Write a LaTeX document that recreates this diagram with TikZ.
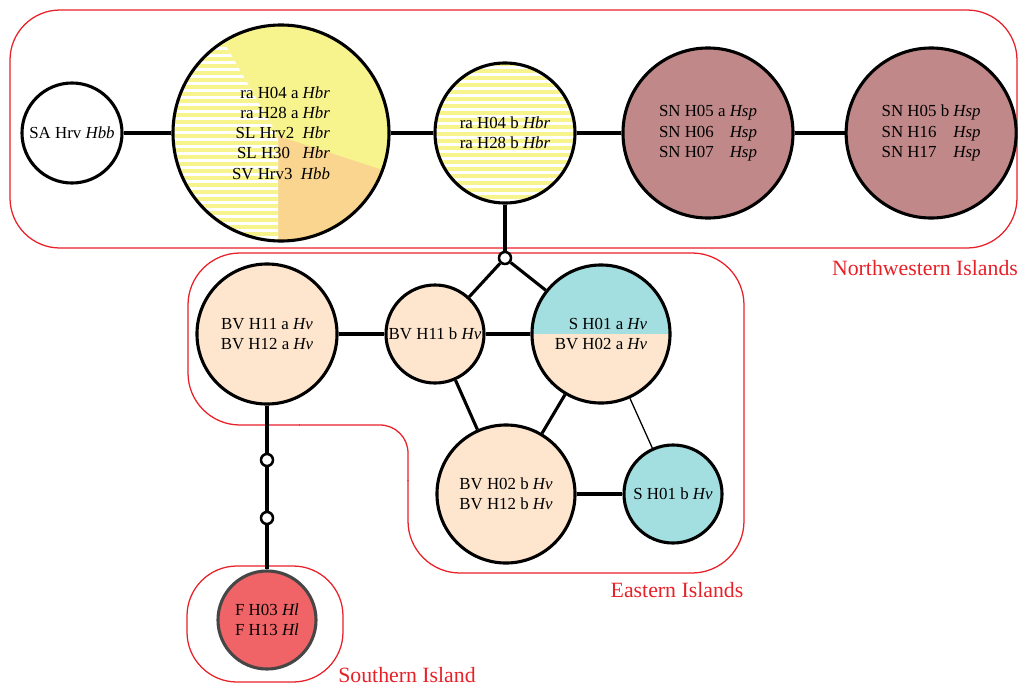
\documentclass[tikz,border=0pt]{standalone}
\usepackage{fontspec}
\setmainfont{Liberation Serif}
\usepackage{tikz}
\usetikzlibrary{positioning}
\definecolor{hbr}{RGB}{247,243,141}
\definecolor{hbb}{RGB}{250,213,143}
\definecolor{hsp}{RGB}{192,136,136}
\definecolor{hvpeach}{RGB}{253,229,206}
\definecolor{hvcyan}{RGB}{163,223,224}
\definecolor{hlred}{RGB}{240,100,104}
\definecolor{hlgray}{RGB}{70,70,70}
\definecolor{islandred}{RGB}{232,32,40}
\newcommand{\hapfont}{\fontsize{12}{14.4}\selectfont}
\newcommand{\islefont}{\fontsize{15.5}{18}\selectfont}
\begin{document}
\begin{tikzpicture}[
		x=0.025cm, y=0.025cm,
		every node/.append style={font=\hapfont},
		hap/.style={circle, draw=black, line width=2.2pt, inner sep=0pt, align=center},
		joint/.style={circle, draw=black, fill=white, line width=1.8pt, minimum size=0.3cm, inner sep=0pt},
		link/.style={line width=2.2pt},
		thinlink/.style={line width=0.9pt},
		isle/.style={draw=islandred, line width=0.9pt},
		islelabel/.style={text=islandred, font=\islefont, inner sep=0pt},
	]
	\useasboundingbox (0,0) rectangle (1022,-685);
	% island outlines
	\draw[isle, rounded corners=1.25cm] (10,-10) rectangle (1017,-248);
	\draw[isle, rounded corners=1.3cm] (408,-480) -- (408,-573) -- (744,-573) -- (744,-253) -- (188,-253) -- (188,-425) -- (300,-425);
	\draw[isle, rounded corners=0.7cm] (299,-425) -- (408,-425) -- (408,-481);
	\draw[isle, rounded corners=1.25cm] (187,-566) rectangle (343,-682);
	% pie and stripes of the first row
	\begin{scope}
		\clip (281,-133) circle[radius=108];
		\fill[hbr] (170,-20) rectangle (392,-245);
		\fill[hbb] (278,-136) -- ++(-90:150) arc[start angle=-90, end angle=-18, radius=150] -- cycle;
		\fill[white] (278,-136) -- ++(120:150) arc[start angle=120, end angle=270, radius=150] -- cycle;
		\clip (278,-136) -- ++(120:150) arc[start angle=120, end angle=270, radius=150] -- cycle;
		\foreach \k in {0,...,32} \fill[hbr] (170,-22-7*\k) rectangle ++(222,-3.5);
	\end{scope}
	\begin{scope}
		\clip (505,-133) circle[radius=70];
		\foreach \k in {0,...,20} \fill[hbr] (430,-62-7*\k) rectangle ++(150,-3.5);
	\end{scope}
	% northwestern islands
	\node[hap, minimum size=2.5cm] (sahrv) at (72,-133) {SA Hrv \textit{Hbb}};
	\node[hap, minimum size=5.4cm, align=right] (pie) at (281,-133) {ra H04 a \textit{Hbr}\\ra H28 a \textit{Hbr}\\SL Hrv2\ \ \textit{Hbr}\\SL H30\ \ \ \textit{Hbr}\\SV Hrv3\ \ \textit{Hbb}};
	\node[hap, minimum size=3.5cm] (rab) at (505,-133) {ra H04 b \textit{Hbr}\\ra H28 b \textit{Hbr}};
	\node[hap, fill=hsp, minimum size=4.25cm] (sna) at (708,-133) {\begin{tabular}{@{}l@{\ }l@{}}SN H05 a & \textit{Hsp}\\SN H06 & \textit{Hsp}\\SN H07 & \textit{Hsp}\end{tabular}};
	\node[hap, fill=hsp, minimum size=4.25cm] (snb) [right=1.25cm of sna] {\begin{tabular}{@{}l@{\ }l@{}}SN H05 b & \textit{Hsp}\\SN H16 & \textit{Hsp}\\SN H17 & \textit{Hsp}\end{tabular}};
	% eastern islands
	\node[joint] (j1) at (505,-258) {};
	\node[hap, fill=hvpeach, minimum size=3.5cm] (bva) at (267,-334) {BV H11 a \textit{Hv}\\BV H12 a \textit{Hv}};
	\node[hap, fill=hvpeach, minimum size=2.45cm] (bvb) at (435,-334) {BV H11 b \textit{Hv}};
	\node[hap, minimum size=3.45cm, align=right, path picture={
			\fill[hvpeach] (path picture bounding box.south west) rectangle (path picture bounding box.east);
			\fill[hvcyan] (path picture bounding box.west) rectangle (path picture bounding box.north east);
		}] (sa01) at (601,-334) {S H01 a \textit{Hv}\\BV H02 a \textit{Hv}};
	\node[hap, fill=hvpeach, minimum size=3.45cm] (bv02) at (506,-494) {BV H02 b \textit{Hv}\\BV H12 b \textit{Hv}};
	\node[hap, fill=hvcyan, minimum size=2.45cm] (sb01) at (673,-494) {S H01 b \textit{Hv}};
	% southern island
	\node[joint] (j2) at (267,-460) {};
	\node[joint] (j3) at (267,-518) {};
	\node[hap, fill=hlred, draw=hlgray, minimum size=2.45cm] (fh03) at (267,-620) {F H03 \textit{Hl}\\F H13 \textit{Hl}};
	% island names
	\node[islelabel] (nwlabel) at (925,-268) {Northwestern Islands};
	\node[islelabel] (elabel) at (677,-590) {Eastern Islands};
	\node[islelabel] (slabel) at (407,-675) {Southern Island};
	% draw the connection lines
	\draw[link] (sahrv) -- (pie);
	\draw[link] (pie) -- (rab);
	\draw[link] (rab) -- (sna);
	\draw[link] (sna) -- (snb);
	\draw[link] (rab) -- (j1);
	\draw[link] (j1) -- (bvb);
	\draw[link] (j1) -- (sa01);
	\draw[link] (bva) -- (bvb);
	\draw[link] (bvb) -- (sa01);
	\draw[link] (bvb) -- (bv02);
	\draw[link] (sa01) -- (bv02);
	\draw[thinlink] (sa01) -- (sb01);
	\draw[link] (bv02) -- (sb01);
	\draw[link] (bva) -- (j2);
	\draw[link] (j2) -- (j3);
	\draw[link] (j3) -- (fh03);
\end{tikzpicture}
\end{document}
